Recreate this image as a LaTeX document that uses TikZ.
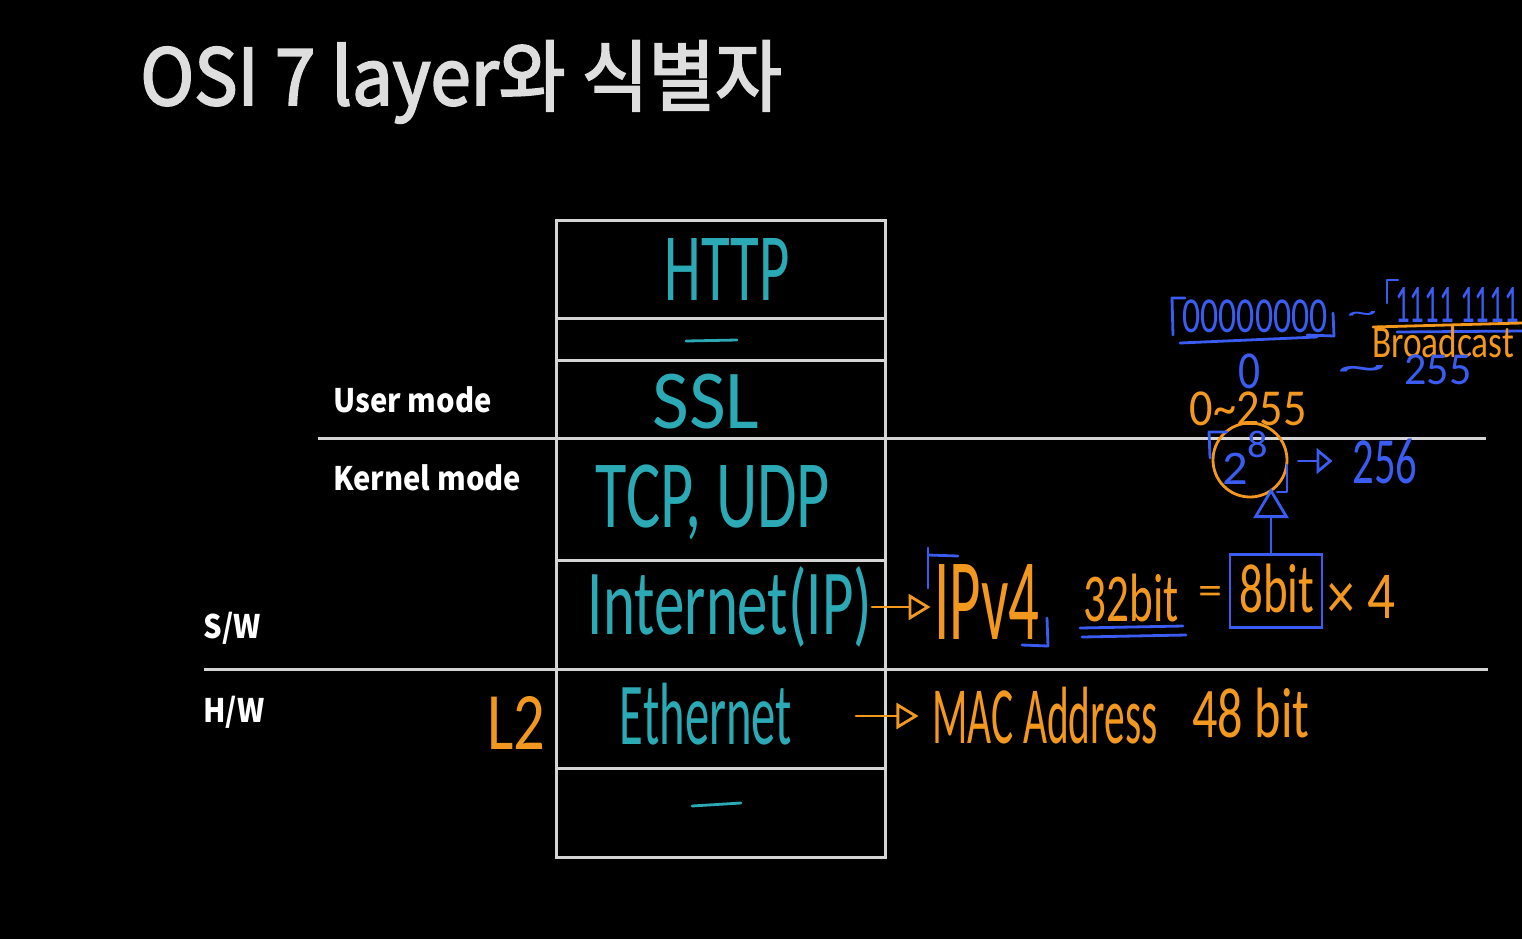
\documentclass[tikz,border=0pt]{standalone}
\usepackage{fontspec}
\usepackage{graphicx}
\usetikzlibrary{arrows.meta}
\setmainfont{Carlito}
\newfontfamily\krtitle{Noto Sans CJK KR}[FakeBold=2.5, FakeStretch=0.93]
\newfontfamily\krlab{Noto Sans CJK KR}[FakeStretch=0.9]
\newfontfamily\handf{Carlito}
\newdimen\pxu \pxu=0.5pt
\newcommand\hw[3]{\resizebox*{#1\pxu}{#2\pxu}{\handf #3}}
\definecolor{teal}{RGB}{43,169,180}
\definecolor{orng}{RGB}{243,152,30}
\definecolor{blu}{RGB}{58,92,240}
\definecolor{boxgray}{RGB}{212,212,212}
\definecolor{titlegray}{RGB}{222,222,222}
\tikzset{
  hand/.style={inner sep=0pt, outer sep=0pt},
  tealtext/.style={hand, text=teal},
  orngtext/.style={hand, text=orng},
  blutext/.style={hand, text=blu},
  stroke/.style={line width=1.4pt, line cap=round, line join=round},
  framel/.style={draw=boxgray, line width=1.5pt},
  lab/.style={text=white, font=\krlab\bfseries\fontsize{16.2}{18}\selectfont, inner sep=0pt, anchor=base west},
  harrow/.style={stroke, -{Triangle[open, length=11pt, width=13pt, line width=1.4pt]}},
}
\begin{document}
\begin{tikzpicture}[x=0.5pt, y=-0.5pt]
\useasboundingbox (0,0) rectangle (1522,939);
\fill[black] (0,0) rectangle (1522,939);

% title
\node[text=titlegray, font=\krtitle\fontsize{39}{44}\selectfont, inner sep=0pt, anchor=base west] (title) at (140,105) {OSI 7 layer와 식별자};

% stack frame
\draw[framel] (556,220) rectangle (885,857);
\draw[framel] (556,318) -- (885,318);
\draw[framel] (556,360) -- (885,360);
\draw[framel] (556,560) -- (885,560);
\draw[framel] (556,768) -- (885,768);
\draw[framel] (318,438) -- (1486,438);
\draw[framel] (204,669) -- (1488,669);

% side labels
\node[lab] (user) at (333,412) {User mode};
\node[lab] (kernel) at (333,490) {Kernel mode};
\node[lab] (sw) at (203,638) {S/W};
\node[lab] (hw) at (203,722) {H/W};

% layer texts
\node[tealtext] (http) at (727,269) {\hw{125}{62}{HTTP}};
\draw[stroke, teal] (686,341) -- (737,340);
\node[tealtext] (ssl) at (706,402) {\hw{107}{55}{SSL}};
\node[tealtext] (tcp) at (713,502) {\hw{234}{75}{TCP, UDP}};
\node[tealtext] (ip) at (730,607) {\hw{284}{81}{Internet(IP)}};
\node[tealtext] (eth) at (706,714) {\hw{172}{62}{Ethernet}};
\draw[stroke, teal] (692,806) -- (741,803);

% orange annotations
\node[orngtext] (l2) at (516,723) {\hw{58}{53}{L2}};
\node[orngtext] (ipv4) at (987,602) {\hw{105}{75}{IPv4}};
\draw[harrow, orng, shorten >=2pt] (ip.east) -- (ipv4.west |- ip.east);
\node[orngtext] (b32) at (1131,598) {\hw{95}{48}{32bit}};
\node[orngtext] (eq) at (1210,595) {\hw{24}{18}{=}};
\node[draw=blu, line width=1.4pt, minimum width=46pt, minimum height=36.5pt, inner sep=0pt] (box8) at (1276,591) {};
\node[orngtext] (b8) at (1277,588) {\hw{75}{49}{8bit}};
\node[orngtext] (x4) at (1361,597) {\hw{68}{43}{× 4}};

\coordinate (ethtail) at (856,716);
\node[orngtext] (mac) at (1045,716) {\hw{225}{57}{MAC Address}};
\node[orngtext] (b48) at (1251,713) {\hw{117}{50}{48 bit}};
\draw[harrow, orng, shorten >=7pt] (ethtail) -- (mac.west |- ethtail);

% blue marks around IPv4 and 32bit
\draw[stroke, blu] (928,588) -- (928,548);
\draw[stroke, blu] (928,555) -- (958,556);
\draw[stroke, blu] (1047,618) -- (1048,646) -- (1022,645);
\draw[stroke, blu] (1080,628) -- (1183,626);
\draw[stroke, blu] (1082,637) -- (1186,635);

% 2^8 area
\node[draw=orng, line width=1.4pt, circle, minimum size=37pt, inner sep=0pt] (c28) at (1250,460) {};
\node[blutext] (p28) at (1245,458) {\hw{46}{53}{2\raisebox{0.55em}{\footnotesize 8}}};
\draw[stroke, blu] (1227,432) -- (1209,432) -- (1210,458);
\draw[stroke, blu] (1287,465) -- (1287,492) -- (1277,492);
\draw[stroke, blu, -{Triangle[open, length=15pt, width=17.5pt, line width=1.4pt]}] (box8.north -| 1271,0) -- (1271,488);
\node[blutext] (n256) at (1385,461) {\hw{65}{45}{256}};
\draw[stroke, blu, -{Triangle[open, length=8pt, width=13pt, line width=1.4pt]}, shorten <=5pt, shorten >=10pt] (c28.east |- n256.west) -- (n256.west);
\node[orngtext] (r0255) at (1248,409) {\hw{117}{34}{0\textasciitilde 255}};
\node[blutext] (z0) at (1249,371) {\hw{22}{35}{0}};

% binary range
\node[blutext] (zeros) at (1255,316) {\hw{145}{33}{00000000}};
\draw[stroke, blu] (1185,298) -- (1172,298) -- (1173,335);
\draw[stroke, blu] (1333,313) -- (1334,336) -- (1307,335);
\draw[stroke, blu] (1180,343) -- (1317,337);
\node[blutext] (tl1) at (1362,316) {\hw{30}{10}{\textasciitilde}};
\node[blutext] (ones) at (1457,305) {\hw{124}{35}{1111 1111}};
\draw[stroke, blu] (1398,280) -- (1387,280) -- (1387,303);
\draw[stroke, orng] (1373,327) -- (1522,323);
\draw[stroke, blu] (1397,332) -- (1522,331);
\node[orngtext] (bcast) at (1443,342) {\hw{142}{32}{Broadcast}};
\node[blutext] (tl2) at (1362,372) {\hw{49}{14}{\textasciitilde}};
\node[blutext] (n255) at (1438,370) {\hw{67}{30}{255}};
\end{tikzpicture}
\end{document}
